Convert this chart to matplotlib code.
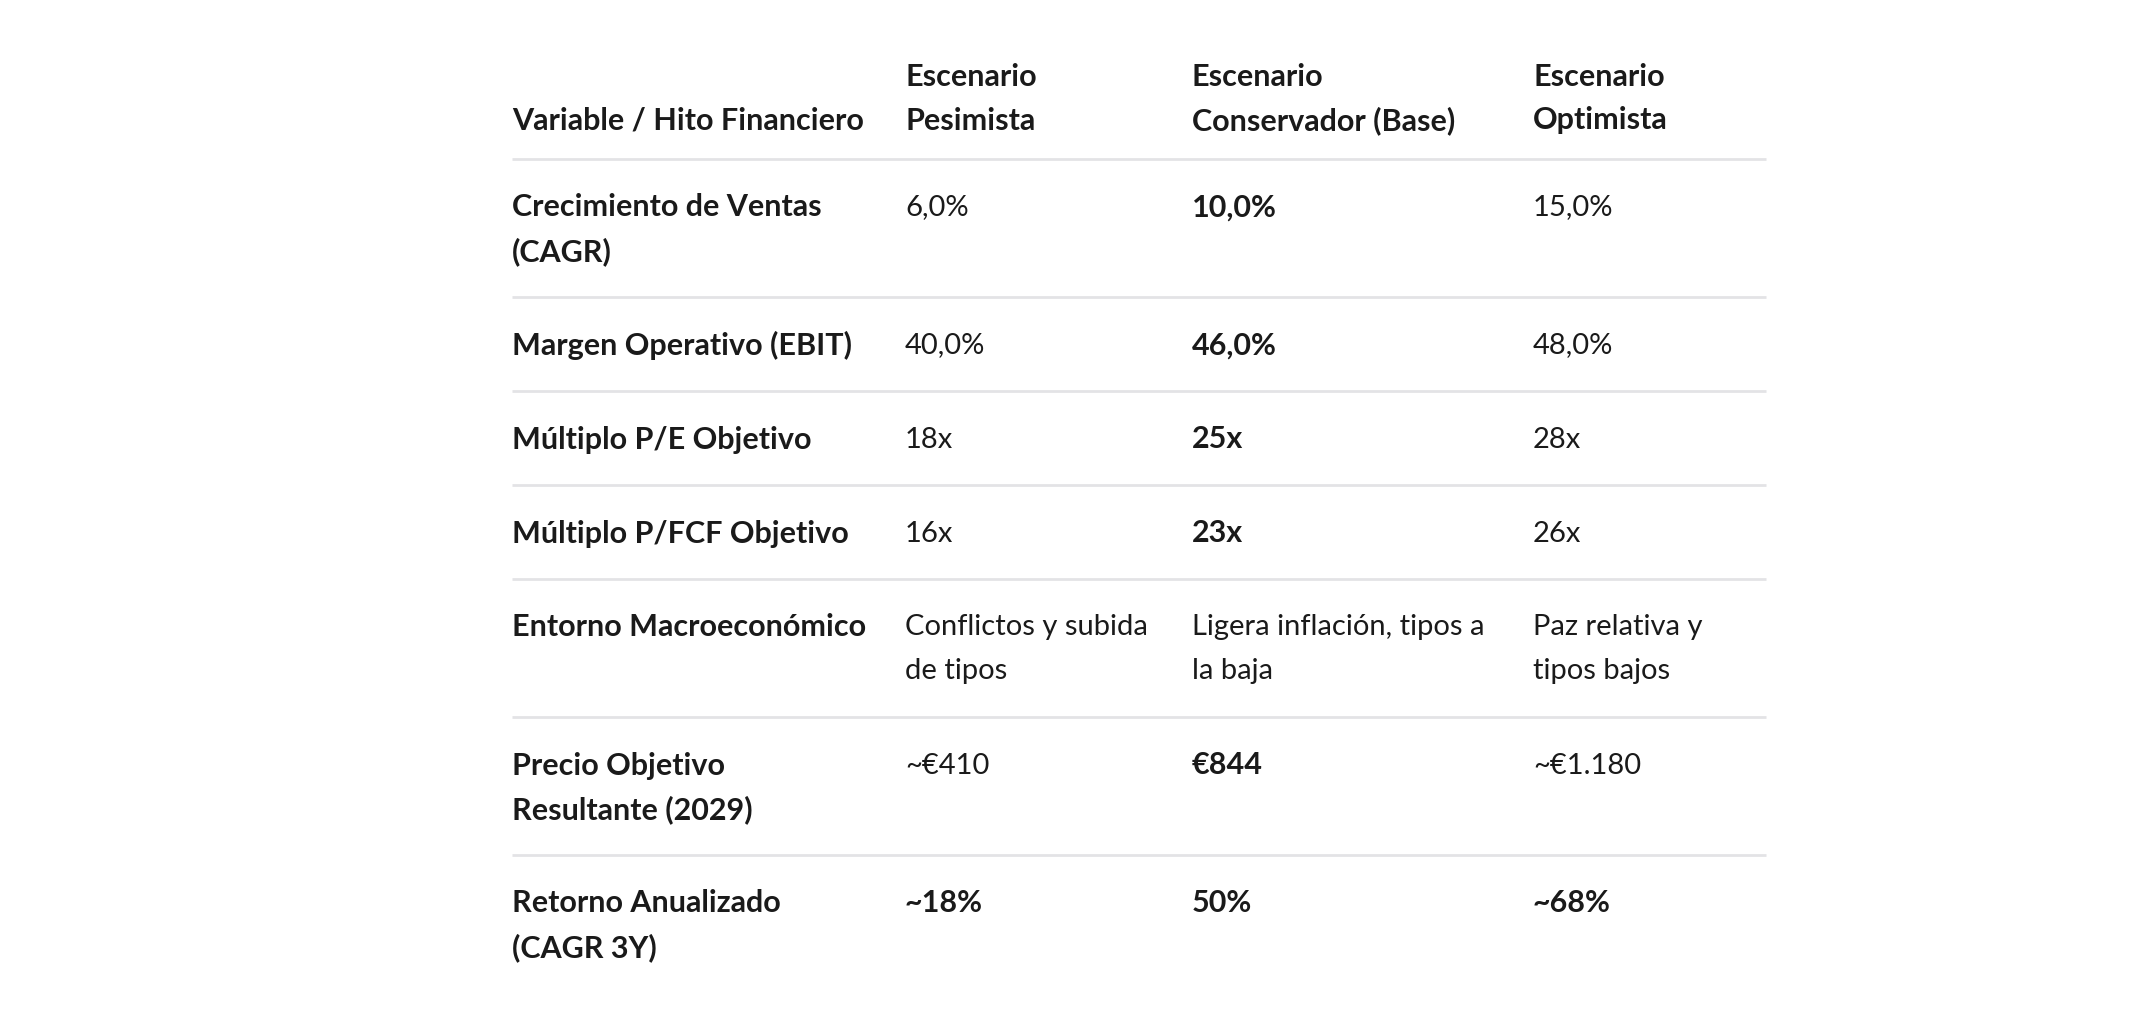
import matplotlib.pyplot as plt

# datos de la tabla
headers = ['Variable / Hito Financiero', 'Escenario\nPesimista', 'Escenario\nConservador (Base)', 'Escenario\nOptimista']
variables = ['Crecimiento de Ventas\n(CAGR)', 'Margen Operativo (EBIT)', 'Múltiplo P/E Objetivo',
             'Múltiplo P/FCF Objetivo', 'Entorno Macroeconómico', 'Precio Objetivo\nResultante (2029)',
             'Retorno Anualizado\n(CAGR 3Y)']
pesimista = ['6,0%', '40,0%', '18x', '16x', 'Conflictos y subida\nde tipos', '~€410', '~18%']
base = ['10,0%', '46,0%', '25x', '23x', 'Ligera inflación, tipos a\nla baja', '€844', '50%']
optimista = ['15,0%', '48,0%', '28x', '26x', 'Paz relativa y\ntipos bajos', '~€1.180', '~68%']
bold_base = [True, True, True, True, False, True, True]
bold_last_row = True

W, H = 2132, 1026
fig = plt.figure(figsize=(W / 100, H / 100), dpi=100)
ax = fig.add_axes([0, 0, 1, 1])
ax.set_xlim(0, W)
ax.set_ylim(H, 0)
ax.axis('off')

col_x = [512, 905, 1192, 1533]
x_end = 1766
pad = 48.5     # del borde superior de la fila al centro de la primera linea
row_h = 94     # alto de una fila de una linea
lh = 44
fs = 21
fs_b = 22
txt_col = '#1a1a1a'
line_col = '#e3e3e6'
fam = ['Lato', 'DejaVu Sans']


def cell(x, y0, s, bold):
    for i, ln in enumerate(s.split('\n')):
        ax.text(x, y0 + i * lh, ln, fontsize=fs_b if bold else fs, family=fam,
                fontweight='bold' if bold else 'normal', color=txt_col,
                va='center', ha='left')


# cabecera
top = 159
for j, h in enumerate(headers):
    k = h.count('\n') + 1
    cell(col_x[j], top - 38.5 - (k - 1) * lh, h, True)
ax.plot([col_x[0], x_end], [top, top], color=line_col, lw=2, solid_capstyle='butt')

rows = list(zip(variables, pesimista, base, optimista))
for r, vals in enumerate(rows):
    last = r == len(rows) - 1
    n = max(v.count('\n') + 1 for v in vals)
    cell(col_x[0], top + pad, vals[0], True)
    cell(col_x[1], top + pad, vals[1], last and bold_last_row)
    cell(col_x[2], top + pad, vals[2], bold_base[r])
    cell(col_x[3], top + pad, vals[3], last and bold_last_row)
    top = top + row_h + (n - 1) * lh
    if not last:
        ax.plot([col_x[0], x_end], [top, top], color=line_col, lw=2, solid_capstyle='butt')

fig.savefig('out.png', dpi=100, facecolor='white')
